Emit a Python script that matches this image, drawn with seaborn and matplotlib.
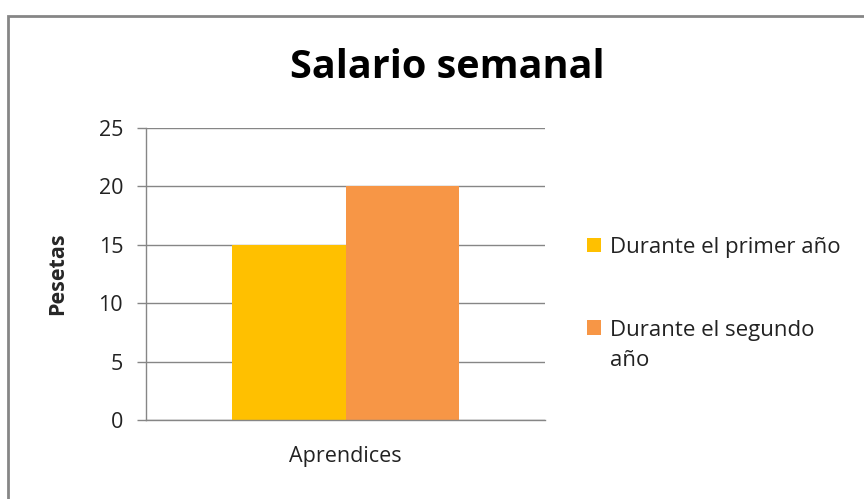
import matplotlib
matplotlib.use("Agg")
import matplotlib.pyplot as plt
import seaborn as sns
import pandas as pd
from matplotlib.patches import Rectangle

# chart values
categories = ["Aprendices"]
series = ["Durante el primer año", "Durante el segundo año"]
values = [15, 20]
colors = ["#FFC000", "#F79646"]
yticks = [0, 5, 10, 15, 20, 25]

df = pd.DataFrame({
    "Grupo": categories * len(series),
    "Serie": series,
    "Pesetas": values,
})

sns.set_theme(style="white")
plt.rcParams["font.family"] = ["Open Sans", "DejaVu Sans"]

fig = plt.figure(figsize=(8.64, 4.99), dpi=100)
ax = fig.add_axes([146 / 864, 1 - 420 / 499, 399 / 864, 292 / 499])

sns.barplot(data=df, x="Grupo", y="Pesetas", hue="Serie", palette=colors,
            width=0.57, ax=ax, saturation=1, linewidth=0, legend=True)

ax.set_ylim(0, 25)
ax.set_xlim(-0.5, 0.5)
ax.set_yticks(yticks)
ax.yaxis.grid(True, color="#868686", linewidth=1)
ax.set_axisbelow(True)
for s in ["top", "right"]:
    ax.spines[s].set_visible(False)
for s in ["left", "bottom"]:
    ax.spines[s].set_color("#868686")
    ax.spines[s].set_linewidth(1)
ax.tick_params(axis="y", length=6.5, color="#868686", width=1, labelsize=15.5,
               pad=10, left=True, labelcolor="#222222")
ax.tick_params(axis="x", length=0, labelsize=15.5, pad=19, labelcolor="#222222")
ax.set_xlabel("")
ax.set_ylabel("Pesetas", fontsize=15.5, fontweight="bold", labelpad=22)

fig.text(447 / 864, 1 - 67 / 499, "Salario semanal", ha="center", va="center",
         fontsize=28.5, fontweight="bold", color="black")

# legend: second label wraps onto a second line below its first line
handles, _ = ax.get_legend_handles_labels()
leg = ax.legend(handles, ["Durante el primer año", "Durante el segundo"],
                loc="upper left", bbox_to_anchor=(587 / 864, 1 - 237 / 499),
                bbox_transform=fig.transFigure, frameon=False, fontsize=16,
                handlelength=0.63, handleheight=0.63, handletextpad=0.42,
                labelspacing=2.77, borderaxespad=0, borderpad=0)
for t in leg.get_texts():
    t.set_color("#222222")

fig.canvas.draw()
bb = leg.get_texts()[1].get_window_extent().transformed(fig.transFigure.inverted())
fig.text(bb.x0, bb.y0 - 30 / 499, "año", fontsize=16, color="#222222",
         ha="left", va="bottom")

# outer chart frame like the original sheet
fig.patches.append(Rectangle((8 / 864, -0.1), 1.2, 1 - 16 / 499 + 0.1,
                             transform=fig.transFigure, fill=False,
                             edgecolor="#868686", linewidth=2))

fig.savefig("out.png", dpi=100)
